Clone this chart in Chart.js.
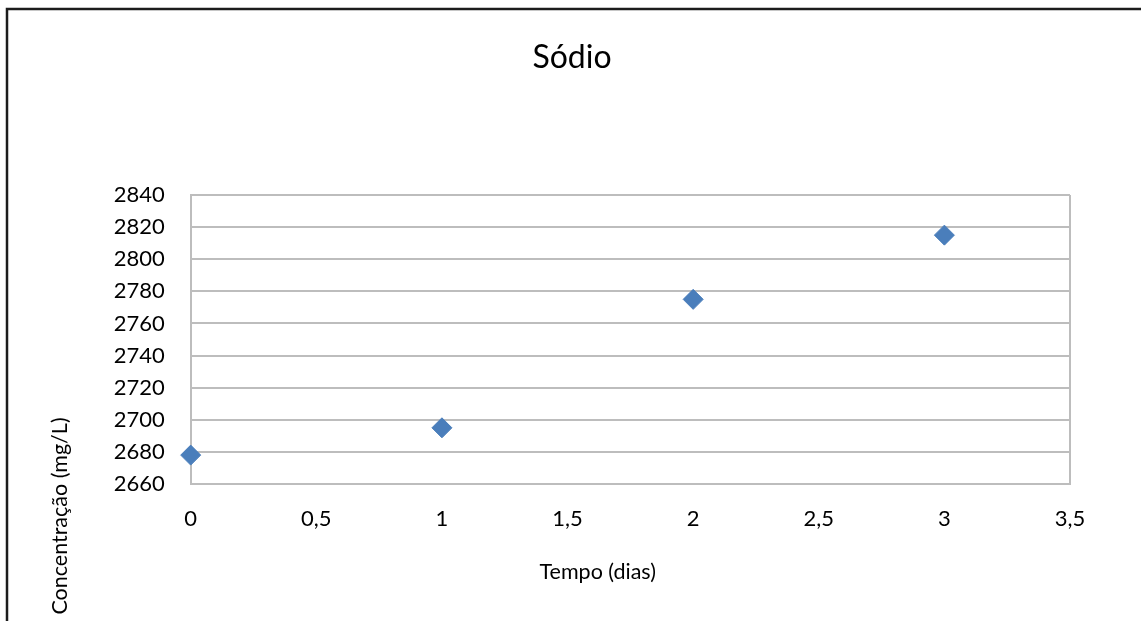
<!DOCTYPE html>
<html lang="pt">
<head>
<meta charset="utf-8">
<title>Sódio</title>
<script src="https://cdn.jsdelivr.net/npm/chart.js@4.4.1/dist/chart.umd.min.js"></script>
<style>
  html, body { margin: 0; padding: 0; background: #ffffff; }
  #wrap { width: 1141px; height: 621px; overflow: hidden; }
  canvas { display: block; }
</style>
</head>
<body>
<div id="wrap"><canvas id="chart" width="1141" height="621"></canvas></div>
<script>
// Sodium concentration over time
const days = [0, 1, 2, 3];
const sodium = [2678, 2695, 2775, 2815];
const xTickLabels = ['0', '0,5', '1', '1,5', '2', '2,5', '3', '3,5'];
const yTickLabels = ['2660', '2680', '2700', '2720', '2740', '2760', '2780', '2800', '2820', '2840'];
const chartTitle = 'Sódio';
const xTitle = 'Tempo (dias)';
const yTitle = 'Concentração (mg/L)';

const FONT = 'Lato, "Open Sans", sans-serif';
const GRID = '#bdbdbd';

// white background and the dark frame of the chart area
const frame = {
  id: 'frame',
  beforeDraw(chart) {
    const { ctx, width, height } = chart;
    ctx.save();
    ctx.fillStyle = '#ffffff';
    ctx.fillRect(0, 0, width, height);
    ctx.strokeStyle = '#1c1c1c';
    ctx.lineWidth = 2.5;
    ctx.beginPath();
    ctx.moveTo(7, height + 2);
    ctx.lineTo(7, 9);
    ctx.lineTo(width + 2, 9);
    ctx.stroke();
    ctx.restore();
  }
};

// axis titles placed relative to the plot area
const axisTitles = {
  id: 'axisTitles',
  afterDraw(chart) {
    const { ctx, chartArea } = chart;
    ctx.save();
    ctx.fillStyle = '#000000';
    ctx.font = '21.5px ' + FONT;
    ctx.textAlign = 'center';
    ctx.textBaseline = 'middle';
    ctx.fillText(xTitle, chartArea.left + 407, chartArea.bottom + 88);
    ctx.translate(60, chartArea.bottom + 32);
    ctx.rotate(-Math.PI / 2);
    ctx.fillText(yTitle, 0, 0);
    ctx.restore();
  }
};

const xTicksCount = xTickLabels.length;

new Chart(document.getElementById('chart'), {
  type: 'scatter',
  data: {
    datasets: [{
      label: chartTitle,
      data: days.map((d, i) => ({ x: d, y: sodium[i] })),
      clip: false,
      pointStyle: 'rectRot',
      pointRadius: 10,
      pointHoverRadius: 10,
      pointBackgroundColor: '#4a7ebb',
      pointBorderColor: '#4a7ebb',
      pointBorderWidth: 1
    }]
  },
  options: {
    responsive: false,
    animation: false,
    devicePixelRatio: 1,
    layout: { padding: { left: 74, right: 71, top: 0, bottom: 0 } },
    plugins: {
      legend: { display: false },
      tooltip: { enabled: false },
      title: {
        display: true,
        text: chartTitle,
        color: '#000000',
        font: { family: FONT, size: 32, weight: 'normal' },
        padding: { top: 38.8, bottom: 117.8 }
      }
    },
    scales: {
      x: {
        type: 'linear',
        min: 0,
        max: 3.5,
        afterFit(scale) { scale.height = 137; },
        ticks: {
          stepSize: 0.5,
          color: '#000000',
          padding: 22,
          maxRotation: 0,
          font: { family: FONT, size: 22 },
          callback: (v, i) => xTickLabels[i]
        },
        grid: {
          drawTicks: false,
          lineWidth: 2,
          color: (c) => (c.index === 0 || c.index === xTicksCount - 1) ? GRID : 'rgba(0,0,0,0)'
        },
        border: { display: true, color: GRID, width: 2 }
      },
      y: {
        min: 2660,
        max: 2840,
        afterFit(scale) { scale.width = 116.7; },
        ticks: {
          stepSize: 20,
          color: '#000000',
          padding: 26,
          font: { family: FONT, size: 22 },
          callback: (v, i) => yTickLabels[i]
        },
        grid: { drawTicks: false, lineWidth: 2, color: GRID },
        border: { display: true, color: GRID, width: 2 }
      }
    }
  },
  plugins: [frame, axisTitles]
});
</script>
</body>
</html>
